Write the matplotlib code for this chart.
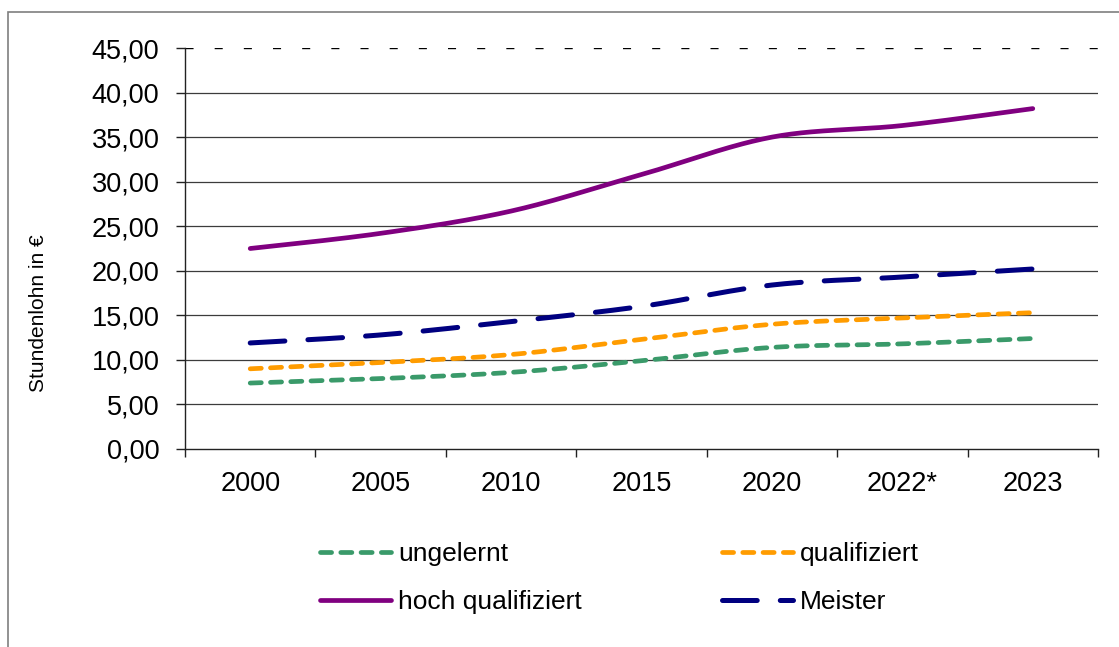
import numpy as np
import matplotlib
matplotlib.use("Agg")
import matplotlib.pyplot as plt
from matplotlib.patches import Rectangle
from matplotlib.ticker import FixedLocator, FuncFormatter

plt.rcParams['font.family'] = ['Liberation Sans', 'DejaVu Sans']
plt.rcParams['lines.scale_dashes'] = False

categories = ["2000", "2005", "2010", "2015", "2020", "2022*", "2023"]
ungelernt = [7.4, 7.9, 8.6, 9.9, 11.4, 11.8, 12.4]
qualifiziert = [9.0, 9.7, 10.6, 12.3, 14.0, 14.7, 15.3]
hoch_qualifiziert = [22.5, 24.2, 26.7, 30.8, 35.0, 36.3, 38.2]
meister = [11.9, 12.8, 14.3, 16.0, 18.4, 19.3, 20.2]
y_ticks = [0, 5, 10, 15, 20, 25, 30, 35, 40, 45]


def smooth(xs, ys, n=40):
    """Excel-like smoothed line (Catmull-Rom as cubic Bezier)."""
    xs = np.asarray(xs, float)
    ys = np.asarray(ys, float)
    P = np.column_stack([xs, ys])
    out = []
    for i in range(len(P) - 1):
        p0 = P[i - 1] if i > 0 else P[i]
        p1 = P[i]
        p2 = P[i + 1]
        p3 = P[i + 2] if i + 2 < len(P) else P[i + 1]
        c1 = p1 + (p2 - p0) / 6.0
        c2 = p2 - (p3 - p1) / 6.0
        t = np.linspace(0, 1, n, endpoint=(i == len(P) - 2))[:, None]
        seg = ((1 - t) ** 3) * p1 + 3 * ((1 - t) ** 2) * t * c1 + 3 * (1 - t) * t ** 2 * c2 + t ** 3 * p2
        out.append(seg)
    out = np.vstack(out)
    return out[:, 0], out[:, 1]


W, H = 1119, 647
fig = plt.figure(figsize=(W / 100, H / 100), dpi=100)

# outer chart border (top & left visible)
fig.patches.append(Rectangle((8 / W, -0.1), 1.2, 1 - 12 / H + 0.1, transform=fig.transFigure,
                             fill=False, edgecolor='#7f7f7f', linewidth=1.2, zorder=0))

ax = fig.add_axes([185 / W, 1 - 449 / H, (1098 - 185) / W, (449 - 48) / H])

x = np.arange(len(categories))

series = [
    (ungelernt, 'ungelernt', '#3a9a6a', 3.4, (0, (8.0, 6.6))),
    (qualifiziert, 'qualifiziert', '#ff9c00', 3.4, (0, (8.0, 6.6))),
    (hoch_qualifiziert, 'hoch qualifiziert', '#800080', 3.4, '-'),
    (meister, 'Meister', '#000080', 3.6, (0, (25.0, 16.6))),
]
handles = {}
for vals, label, color, lw, ls in series:
    sx, sy = smooth(x, vals)
    ln, = ax.plot(sx, sy, color=color, lw=lw, linestyle=ls, label=label,
                  dash_capstyle='round', solid_capstyle='round', zorder=3)
    handles[label] = ln

ax.set_xlim(-0.5, len(categories) - 0.5)
ax.set_ylim(0, 45)

# gridlines
for yv in y_ticks[1:-1]:
    ax.axhline(yv, color='#3c3c3c', lw=0.9, zorder=1)
ax.axhline(45, color='black', lw=1.0, linestyle=(0, (5.8, 15.2)), zorder=1)

for side in ['top', 'right']:
    ax.spines[side].set_visible(False)
for side in ['left', 'bottom']:
    ax.spines[side].set_color('#222222')
    ax.spines[side].set_linewidth(1.0)

ax.yaxis.set_major_locator(FixedLocator(y_ticks))
ax.yaxis.set_major_formatter(FuncFormatter(lambda v, p: f"{v:.2f}".replace('.', ',')))
ax.tick_params(axis='y', direction='out', length=6.5, width=1.0, color='#222222',
               labelsize=19.5, pad=12)

ax.xaxis.set_major_locator(FixedLocator(np.arange(-0.5, len(categories), 1.0)))
ax.xaxis.set_major_formatter(FuncFormatter(lambda v, p: ''))
ax.set_xticks(x, minor=True)
ax.set_xticklabels(categories, minor=True)
ax.tick_params(axis='x', which='major', direction='out', length=6, width=1.0, color='#222222')
ax.tick_params(axis='x', which='minor', length=0, labelsize=19.5, pad=16)

ax.set_ylabel("Stundenlohn in €", fontsize=15)
ax.yaxis.set_label_coords((48 - 185) / 913, (449 - 313) / 401)

leg_kw = dict(frameon=False, fontsize=19, handlelength=2.7, handletextpad=0.25,
              labelspacing=0.92, borderpad=0, borderaxespad=0, loc='upper left')
leg1 = fig.legend([handles['ungelernt'], handles['hoch qualifiziert']],
                  ['ungelernt', 'hoch qualifiziert'],
                  bbox_to_anchor=(320 / W, 1 - 542 / H), **leg_kw)
leg2 = fig.legend([handles['qualifiziert'], handles['Meister']],
                  ['qualifiziert', 'Meister'],
                  bbox_to_anchor=(722 / W, 1 - 542 / H), **leg_kw)

fig.savefig("out.png", dpi=100)
